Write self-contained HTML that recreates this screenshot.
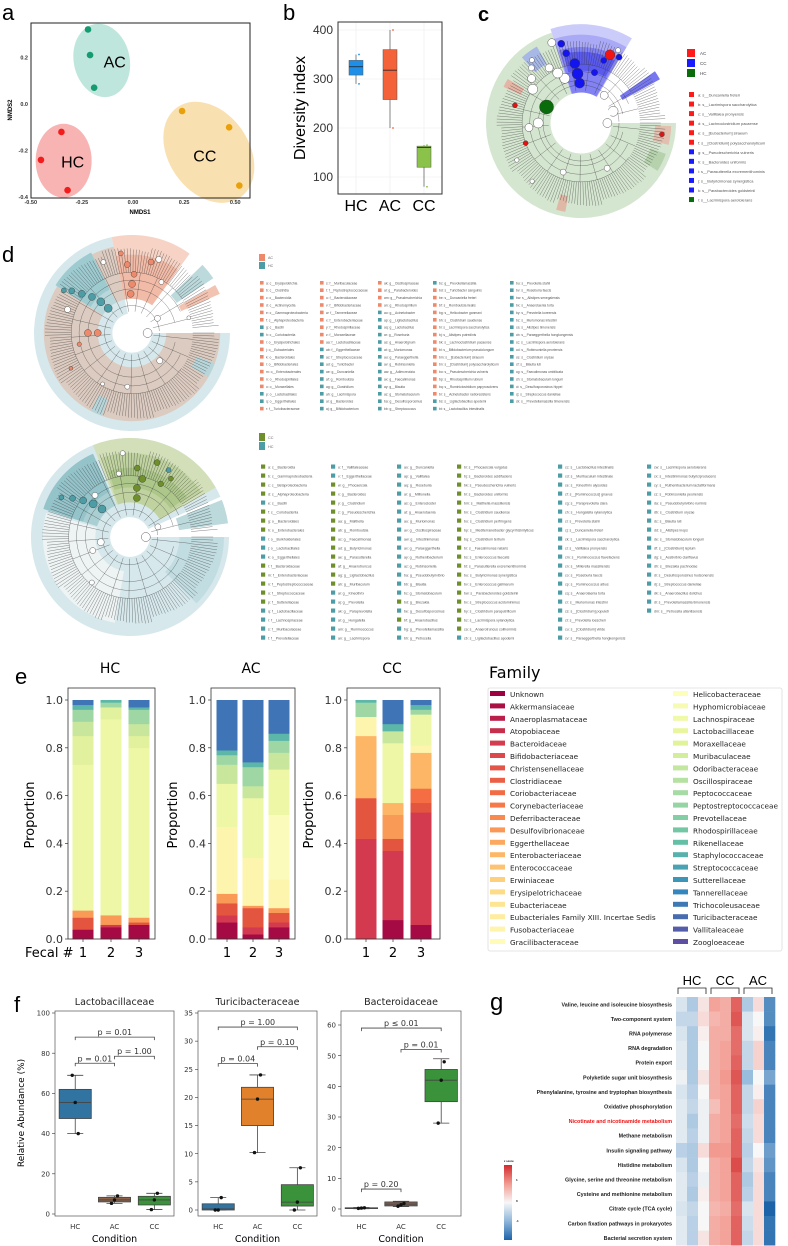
<!DOCTYPE html>
<html><head><meta charset="utf-8">
<style>
body{margin:0;background:#fff;width:788px;height:1246px;overflow:hidden}
svg{display:block;font-family:"Liberation Sans",sans-serif}
.mp{font-family:"DejaVu Sans","Liberation Sans",sans-serif}
</style></head><body>
<svg id="fig" width="788" height="1246" viewBox="0 0 788 1246">
<text x="2" y="20" font-size="22">a</text>
<text x="283" y="20" font-size="22">b</text>
<text x="478" y="21" font-size="20" font-weight="bold">c</text>
<text x="2" y="262" font-size="22">d</text>
<text x="15" y="684" font-size="22">e</text>
<text x="14" y="1012" font-size="22">f</text>
<text x="490" y="1010" font-size="24">g</text>
</svg>
<script>
// ---------- DATA ----------
const nmdsGroups = ['HC','AC','CC'];
const nmdsHCx = [-0.35,-0.45,-0.32], nmdsHCy = [-0.12,-0.24,-0.37];
const nmdsACx = [-0.22,-0.21,-0.19], nmdsACy = [0.32,0.21,0.07];
const nmdsCCx = [0.24,0.47,0.52],   nmdsCCy = [-0.03,-0.10,-0.35];
const nmdsXTicks = [-0.5,-0.25,0,0.25,0.5];
const nmdsXTickLabels = ['-0.50','-0.25','0.00','0.25','0.50'];
const nmdsYTicks = [0.2,0,-0.2,-0.4];
const nmdsYTickLabels = ['0.2','0.0','-0.2','-0.4'];
const divCats = ['HC','AC','CC'];
const divMin = [290,200,80], divQ1 = [308,258,120], divMed = [325,318,160], divQ3 = [338,360,163], divMax = [350,400,165];
const divYTicks = [100,200,300,400];
const stackGroups = ['HC','AC','CC'];
const stackHeights = [
 [[0.04,0.05,0.03,0.61,0.12,0.06,0.05,0.02,0.02],[0.05,0.01,0.04,0.82,0.05,0.02,0.01],[0.06,0.01,0.02,0.71,0.05,0.05,0.06,0.01,0.03]],
 [[0.07,0.03,0.05,0.04,0.28,0.18,0.08,0.04,0.02,0.21],[0.02,0.03,0.08,0.01,0.20,0.25,0.05,0.08,0.02,0.26],[0.05,0.02,0.04,0.02,0.12,0.27,0.19,0.07,0.05,0.03,0.14]],
 [[0.42,0.17,0.26,0.08,0.06,0.01],[0.08,0.29,0.05,0.10,0.05,0.25,0.05,0.03,0.10],[0.06,0.47,0.04,0.06,0.15,0.03,0.13,0.02,0.02,0.02]]
];
const stackColors = [
 [['k0','k2','k4','ly','lg','yg','gr','te','bl'],['k0','k1','k4','ly','lg','gr','te'],['k0','k2','k4','ly','lg','yg','gr','te','bl']],
 [['k0','k1','k2','k4','cr','ly','yg','gr','te','bl'],['k0','k1','k2','k4','cr','ly','yg','gr','te','bl'],['k0','k1','k2','k4','cr','cr2','ly','yg','gr','te','bl']],
 [['k1','k2','k5','cr','gr','te'],['k0','k1','k2','k4','k5','ly','yg','te','bl'],['k0','k1','k2','k3','k5','cr','ly','gr','te','bl']]
];
const stackYTicks = [0,0.2,0.4,0.6,0.8,1.0];
const stackYTickLabels = ['0.0','0.2','0.4','0.6','0.8','1.0'];
const fecalLabels = ['1','2','3'];
const familyNames = ['Unknown','Akkermansiaceae','Anaeroplasmataceae','Atopobiaceae','Bacteroidaceae','Bifidobacteriaceae','Christensenellaceae','Clostridiaceae','Coriobacteriaceae','Corynebacteriaceae','Deferribacteraceae','Desulfovibrionaceae','Eggerthellaceae','Enterobacteriaceae','Enterococcaceae','Erwiniaceae','Erysipelotrichaceae','Eubacteriaceae','Eubacteriales Family XIII. Incertae Sedis','Fusobacteriaceae','Gracilibacteraceae','Helicobacteraceae','Hyphomicrobiaceae','Lachnospiraceae','Lactobacillaceae','Moraxellaceae','Muribaculaceae','Odoribacteraceae','Oscillospiraceae','Peptococcaceae','Peptostreptococcaceae','Prevotellaceae','Rhodospirillaceae','Rikenellaceae','Staphylococcaceae','Streptococcaceae','Sutterellaceae','Tannerellaceae','Trichocoleusaceae','Turicibacteraceae','Vallitaleaceae','Zoogloeaceae'];
const fTitles = ['Lactobacillaceae','Turicibacteraceae','Bacteroidaceae'];
const fCats = ['HC','AC','CC'];
const fMin = [[40,5.3,2.2],[0,10.2,0],[0.1,0.8,28]];
const fQ1  = [[47.5,6,4.5],[0,15,0.7],[0.2,1.0,35]];
const fMed = [[55.5,7,7],[0.2,19.7,1.4],[0.3,1.6,42]];
const fQ3  = [[62,8.3,8.8],[1.1,21.8,4.5],[0.4,2.3,45.5]];
const fMax = [[69,9,10.3],[2.2,24,7.5],[0.5,2.5,49]];
const fPts = [[[69,55.5,40],[5.3,7,9],[2.2,7,10.3]],[[0,0,2.2],[10.2,19.7,24],[0,1.4,7.5]],[[0.2,0.3,0.4],[0.9,1.4,1.8],[28,42,48]]];
const fYTicks = [[0,20,40,60,80,100],[0,5,10,15,20,25,30,35],[0,10,20,30,40,50,60]];
const fBrA = [[0,1,0],[0,1,0],[0,1,0]], fBrB = [[2,2,1],[2,2,1],[2,2,1]];
const fBrY = [[88,78.5,75],[32.5,29,26],[59,52,6.5]];
const fBrText = [['p = 0.01','p = 1.00','p = 0.01'],['p = 1.00','p = 0.10','p = 0.04'],['p \u2264 0.01','p = 0.01','p = 0.20']];
const pathways = ['Valine, leucine and isoleucine biosynthesis','Two-component system','RNA polymerase','RNA degradation','Protein export','Polyketide sugar unit biosynthesis','Phenylalanine, tyrosine and tryptophan biosynthesis','Oxidative phosphorylation','Nicotinate and nicotinamide metabolism','Methane metabolism','Insulin signaling pathway','Histidine metabolism','Glycine, serine and threonine metabolism','Cysteine and methionine metabolism','Citrate cycle (TCA cycle)','Carbon fixation pathways in prokaryotes','Bacterial secretion system'];
const heatGroups = ['HC','CC','AC'];
const zScores = [
 [-0.3,-0.7,0.2,0.9,0.8,1.5,-0.7,0.3,-1.5],[-0.5,-0.5,0.3,0.7,0.8,1.6,-0.3,0.0,-1.5],[-0.3,-0.7,0.1,0.8,0.8,1.4,-0.3,0.1,-1.8],
 [-0.2,-0.7,0.0,0.8,0.9,1.4,-0.5,0.4,-1.6],[-0.2,-0.7,0.0,0.8,0.9,1.5,-0.5,0.4,-1.6],[-0.1,-0.7,0.2,0.8,1.0,1.6,-0.9,0.0,-1.2],
 [-0.3,-0.6,0.0,0.8,0.9,1.5,-0.5,0.1,-1.6],[-0.2,-0.5,-0.1,0.6,0.9,1.5,-0.5,0.4,-1.6],[-0.2,-0.7,-0.1,0.8,0.9,1.4,-0.4,0.3,-1.6],
 [-0.2,-0.6,-0.1,0.8,0.9,1.5,-0.5,0.3,-1.6],[-0.6,-0.7,0.3,1.0,1.0,1.5,-0.6,0.0,-1.3],[-0.3,-0.7,0.0,0.8,0.9,1.7,-0.5,0.2,-1.4],
 [-0.2,-0.6,-0.1,0.8,0.9,1.5,-0.7,0.3,-1.6],[-0.2,-0.7,0.1,0.8,0.9,1.5,-0.6,0.3,-1.6],[-0.3,-0.5,0.0,0.7,0.8,1.4,-0.3,0.3,-2.0],
 [-0.2,-0.6,0.0,0.8,0.9,1.5,-0.4,0.3,-1.8],[-0.2,-0.6,0.2,0.8,0.9,1.5,-0.5,0.3,-1.8]];
const cLegend = ['s__Duncaniella freteri','s__Lacrimispora saccharolytica','s__Vallitalea pronyensis','s__Lachnoclostridium pacaense','s__[Eubacterium] siraeum','s__[Clostridium] polysaccharolyticum','s__Pseudescherichia vulneris','s__Bacteroides uniformis','s__Parasutterella excrementihominis','s__Butyricimonas synergistica','s__Parabacteroides goldsteinii','s__Lacrimispora aerotolerans'];
const cLegendCol = 'rrrrrrbbbbbg';
const dTopNames = ['c__Erysipelotrichia','c__Clostridia','c__Bacteroidia','c__Actinomycetia','c__Gammaproteobacteria','c__Alphaproteobacteria','c__Bacilli','c__Coriobacteriia','o__Erysipelotrichales','o__Eubacteriales','o__Bacteroidales','o__Bifidobacteriales','o__Enterobacterales','o__Rhodospirillales','o__Moraxellales','o__Lactobacillales','o__Eggerthellales','f__Turicibacteraceae',
'f__Muribaculaceae','f__Peptostreptococcaceae','f__Bacteroidaceae','f__Bifidobacteriaceae','f__Tannerellaceae','f__Enterobacteriaceae','f__Rhodospirillaceae','f__Moraxellaceae','f__Lactobacillaceae','f__Eggerthellaceae','f__Streptococcaceae','g__Turicibacter','g__Duncaniella','g__Romboutsia','g__Clostridium','g__Lacrimispora','g__Bacteroides','g__Bifidobacterium',
'g__Oscillospiraceae','g__Parabacteroides','g__Pseudescherichia','g__Rhodospirillum','g__Acinetobacter','g__Ligilactobacillus','g__Lactobacillus','g__Roseburia','g__Anaerotignum','g__Muriomonas','g__Paraeggerthella','g__Robinsoniella','g__Adlercreutzia','g__Faecalimonas','g__Blautia','g__Stomatobaculum','g__Desulfosporosinus','g__Streptococcus',
'g__Prevotellamassilia','s__Turicibacter sanguinis','s__Duncaniella freteri','s__Romboutsia ilealis','s__Helicobacter ganmani','s__Clostridium saudiense','s__Lacrimispora saccharolytica','s__Alistipes putredinis','s__Lachnoclostridium pacaense','s__Bifidobacterium pseudolongum','s__[Eubacterium] siraeum','s__[Clostridium] polysaccharolyticum','s__Pseudescherichia vulneris','s__Rhodospirillum rubrum','s__Ruminiclostridium papyrosolvens','s__Acinetobacter radioresistens','s__Ligilactobacillus apodemi','s__Lactobacillus intestinalis',
's__Prevotella stahli','s__Roseburia faecis','s__Alistipes senegalensis','s__Anaerotaenia torta','s__Prevotella koreensis','s__Muriomonas intestini','s__Alistipes timonensis','s__Paraeggerthella hongkongensis','s__Lacrimispora aerotolerans','s__Robinsoniella peoriensis','s__Clostridium oryzae','s__Blautia luti','s__Faecalimonas umbilicata','s__Stomatobaculum longum','s__Desulfosporosinus hippei','s__Streptococcus danieliae','s__Prevotellamassilia timonensis'];
const dTopCol = 'oooooottoooooootto'+'oooooooootttttttt'+'t'+'oooottttttttttttttt'.slice(0,18)+'t'+'ooooooooooooooo'+'tt'+'ttttttttttttttttt';
const dBotNames = ['c__Bacteroidia','c__Gammaproteobacteria','c__Betaproteobacteria','c__Alphaproteobacteria','c__Bacilli','c__Coriobacteriia','o__Bacteroidales','o__Enterobacterales','o__Burkholderiales','o__Lactobacillales','o__Eggerthellales','f__Bacteroidaceae','f__Enterobacteriaceae','f__Peptostreptococcaceae','f__Streptococcaceae','f__Sutterellaceae','f__Lactobacillaceae','f__Lachnospiraceae','f__Muribaculaceae','f__Prevotellaceae',
'f__Vallitaleaceae','f__Eggerthellaceae','g__Phocaeicola','g__Bacteroides','g__Clostridium','g__Pseudescherichia','g__Malthella','g__Romboutsia','g__Faecalimonas','g__Butyricimonas','g__Parasutterella','g__Anaerotruncus','g__Ligilactobacillus','g__Muribaculum','g__Kineothrix','g__Prevotella','g__Paraprevotella','g__Hungatella','g__Ruminococcus','g__Lacrimispora',
'g__Duncaniella','g__Vallitalea','g__Roseburia','g__Millionella','g__Enterocloster','g__Anaerotaenia','g__Muriomonas','g__Oscillospiraceae','g__Intestinimonas','g__Paraeggerthella','g__Ruthenibacterium','g__Robinsoniella','g__Pseudobutyrivibrio','g__Blautia','g__Stomatobaculum','g__Brezakia','g__Desulfosporosinus','g__Anaerobacillus','g__Prevotellamassilia','g__Petrocella',
's__Phocaeicola vulgatus','s__Bacteroides acidifaciens','s__Pseudescherichia vulneris','s__Bacteroides uniformis','s__Malthella massiliensis','s__Clostridium saudiense','s__Clostridium perfringens','s__Mediterraneibacter glycyrrhizinilyticus','s__Clostridium tertium','s__Faecalimonas nataris','s__Enterococcus faecalis','s__Parasutterella excrementihominis','s__Butyricimonas synergistica','s__Enterococcus gallinarum','s__Parabacteroides goldsteinii','s__Streptococcus acidominimus','s__Clostridium paraputrificum','s__Lacrimispora xylanolytica','s__Anaerotruncus colihominis','s__Ligilactobacillus apodemi',
's__Lactobacillus intestinalis','s__Muribaculum intestinale','s__Kineothrix alysoides','s__[Ruminococcus] gnavus','s__Paraprevotella clara','s__Hungatella xylanolytica','s__Prevotella stahli','s__Duncaniella freteri','s__Lacrimispora saccharolytica','s__Vallitalea pronyensis','s__Ruminococcus flavefaciens','s__Millerella massiliensis','s__Roseburia faecis','s__Ruminococcus albus','s__Anaerotaenia torta','s__Muriomonas intestini','s__[Clostridium] populeti','s__Prevotella loescheii','s__[Clostridium] viride','s__Paraeggerthella hongkongensis',
's__Lacrimispora aerotolerans','s__Intestinimonas butyriciproducens','s__Ruthenibacterium lactatiformans','s__Robinsoniella peoriensis','s__Pseudobutyrivibrio ruminis','s__Clostridium oryzae','s__Blautia luti','s__Alistipes inops','s__Stomatobaculum longum','s__[Clostridium] leptum','s__Acetivibrio clariflavus','s__Brezakia pachnodae','s__Desulfosporosinus hudsonensis','s__Streptococcus danieliae','s__Anaerobacillus dolichus','s__Prevotellamassilia timonensis','s__Petrocella atlantisensis'];
const dBotCol = 'ggggtgggtttgggggtttt'+'ttggggggggggggtttttt'+'tttttttttttttttgtgtt'+'gggggggggggggggggggt'+'tttttttttttttttttttt'+'ttttttttttttttttt';

// ---------- helpers ----------
const NS='http://www.w3.org/2000/svg';
const svg=document.getElementById('fig');
function mk(tag,attrs,parent){const e=document.createElementNS(NS,tag);for(const k in attrs)e.setAttribute(k,attrs[k]);(parent||svg).appendChild(e);return e;}
function txt(x,y,s,size,anchor,parent,extra){const e=mk('text',Object.assign({x:x,y:y,'font-size':size,'text-anchor':anchor||'start'},extra||{}),parent);e.textContent=s;return e;}
function grp(name){const g=mk('g',{});return g;}
function lerpHex(a,b,t){const pa=[1,3,5].map(i=>parseInt(a.substr(i,2),16)),pb=[1,3,5].map(i=>parseInt(b.substr(i,2),16));return 'rgb('+pa.map((v,i)=>Math.round(v+(pb[i]-v)*t)).join(',')+')';}
function ramp(stops,t){t=Math.max(0,Math.min(1,t));const n=stops.length-1;const i=Math.min(n-1,Math.floor(t*n));return lerpHex(stops[i],stops[i+1],t*n-i);}
const letters='abcdefghijklmnopqrstuvwxyz';
function code(i){return i<26?letters[i]:letters[Math.floor(i/26)-1]+letters[i%26];}

// ---------- PANEL A ----------
(function(){
 const g=grp('panel-a-nmds');
 const sx=v=>133+v*204.5, sy=v=>104-v*233;
 const cols={HC:['#f31c1c','#f7b4b2'],AC:['#159b70','#bfe6dc'],CC:['#e9a10b','#f9e0b0']};
 const xs={HC:nmdsHCx,AC:nmdsACx,CC:nmdsCCx}, ys={HC:nmdsHCy,AC:nmdsACy,CC:nmdsCCy};
 const ell={HC:[28,37,0,7,0],AC:[28,37,-12,11,3],CC:[40,55,-35,-8,11]};
 const lab={HC:[9,7],AC:[13,7],CC:[-4,9]};
 nmdsGroups.forEach(k=>{
  const mx=xs[k].reduce((a,b)=>a+b)/3, my=ys[k].reduce((a,b)=>a+b)/3;
  const cx=sx(mx)+ell[k][3], cy=sy(my)+ell[k][4];
  const e=mk('ellipse',{cx:cx,cy:cy,rx:ell[k][0],ry:ell[k][1],fill:cols[k][1],transform:'rotate('+ell[k][2]+' '+cx+' '+cy+')'},g);
  
  
  xs[k].forEach((v,i)=>{
   const p=mk('circle',{cx:sx(v),cy:sy(ys[k][i]),r:3.3,fill:cols[k][0]},g);
   
   
  });
  const t=txt(cx+lab[k][0],cy+lab[k][1],k,16,'middle',g);
  
  
 });
 const f=mk('rect',{x:31,y:23,width:219,height:175,fill:'none',stroke:'#222','stroke-width':1},g);
 
 
 nmdsXTicks.forEach((v,i)=>{const t=txt(sx(v),204,nmdsXTickLabels[i],5.5,'middle',g,{'font-weight':'bold',fill:'#333'});});
 nmdsYTicks.forEach((v,i)=>{const t=txt(28,sy(v)+2,nmdsYTickLabels[i],5.5,'end',g,{'font-weight':'bold',fill:'#333'});});
 const xl=txt(140,214,'NMDS1',6,'middle',g,{'font-weight':'bold'});
 const yl=txt(12,110,'NMDS2',6,'middle',g,{'font-weight':'bold',transform:'rotate(-90 12 110)'});
})();

// ---------- PANEL B ----------
(function(){
 const g=grp('panel-b-diversity');
 const sy=v=>177-(v-100)*0.49;
 const cx=[356,390,424];
 const cols=['#1e8fe8','#f4623a','#8bc34a'];
 divYTicks.forEach(v=>{const l=mk('line',{x1:338,x2:442,y1:sy(v),y2:sy(v),stroke:'#ebebeb','stroke-width':0.6},g);
  const t=txt(333,sy(v)+4,String(v),12,'end',g,{fill:'#333'});});
 divCats.forEach((c,i)=>{
  const l0=mk('line',{x1:cx[i],x2:cx[i],y1:22,y2:194,stroke:'#ebebeb','stroke-width':0.6},g);
  const w=mk('line',{x1:cx[i],x2:cx[i],y1:sy(divMax[i]),y2:sy(divMin[i]),stroke:'#555','stroke-width':0.7},g);
  const b=mk('rect',{x:cx[i]-7,y:sy(divQ3[i]),width:14,height:sy(divQ1[i])-sy(divQ3[i]),fill:cols[i],stroke:'#555','stroke-width':0.5},g);
  const m=mk('line',{x1:cx[i]-7,x2:cx[i]+7,y1:sy(divMed[i]),y2:sy(divMed[i]),stroke:'#222','stroke-width':0.8},g);
  [divMin[i],divMax[i]].forEach(v=>{const p=mk('circle',{cx:cx[i]+3,cy:sy(v),r:0.9,fill:cols[i]},g);});
  const t=txt(cx[i],211,c,16,'middle',g);
 });
 const f=mk('rect',{x:338,y:22,width:104,height:172,fill:'none',stroke:'#333','stroke-width':1},g);
 const yl=txt(305,108,'Diversity index',16,'middle',g,{transform:'rotate(-90 305 108)'});
})();

// ---------- CLADOGRAM helper ----------
function pt(cx,cy,R,r,th){const a=th*Math.PI/180;return [cx+R*r*Math.cos(a),cy+R*r*Math.sin(a)];}
function sector(g,cx,cy,R,r0,r1,t0,t1,fill){
 const p1=pt(cx,cy,R,r1,t0),p2=pt(cx,cy,R,r1,t1),p3=pt(cx,cy,R,r0,t1),p4=pt(cx,cy,R,r0,t0);
 const lg=(t1-t0)>180?1:0;
 const d='M'+p1+' A'+R*r1+','+R*r1+' 0 '+lg+' 1 '+p2+' L'+p3+' A'+R*r0+','+R*r0+' 0 '+lg+' 0 '+p4+'Z';
 const e=mk('path',{d:d,fill:fill},g);
}
function clado(name,cx,cy,R,bands,nodes,spokeFrom,spokeTo,hole){
 hole=hole||0.2;
 const g=grp(name);
 bands.forEach(b=>sector(g,cx,cy,R,b[0],b[1],b[2],b[3],b[4]));
 let d='';
 for(let th=spokeFrom;th<=spokeTo;th+=2.1){
  const len=0.84+((Math.round(th*7))%5)*0.012;
  const a=pt(cx,cy,R,0.62,th),b=pt(cx,cy,R,len,th);d+='M'+a+'L'+b;
 }
 [hole+0.08,0.45,0.54,0.62].forEach((r,j)=>{const s=spokeFrom+j*12,e=spokeTo-j*10;const a=pt(cx,cy,R,r,s),b=pt(cx,cy,R,r,e);d+='M'+a+'A'+R*r+','+R*r+' 0 '+((e-s)>180?1:0)+' 1 '+b;});
 for(let th=spokeFrom+6;th<spokeTo;th+=17){const a=pt(cx,cy,R,hole+0.02,th),b=pt(cx,cy,R,0.62,th);d+='M'+a+'L'+b;}
 const sp=mk('path',{d:d,fill:'none',stroke:'#333','stroke-width':0.3},g);
 nodes.forEach(n=>{const p=pt(cx,cy,R,n[0],n[1]);const c=mk('circle',{cx:p[0],cy:p[1],r:n[2],fill:n[3],stroke:'#333','stroke-width':0.4},g);});
 const c0=mk('circle',{cx:cx,cy:cy,r:R*hole,fill:'#fff'},g);
 const r0=pt(cx,cy,R,hole,0);const cr=mk('circle',{cx:r0[0]-4,cy:r0[1],r:4.5,fill:'#fff',stroke:'#333','stroke-width':0.4},g);
 return g;
}
// ---------- PANEL C ----------
(function(){
 const W='#fff';
 const nodes=[[0.4,205,7,'#0a6b0a'],[0.5,250,5,W],[0.58,245,5,W],[0.67,240,4,W],[0.45,180,5,W],[0.55,175,4,W],[0.62,215,5,W],[0.7,222,4,W],[0.78,228,3,W],[0.84,232,2.5,W],
  [0.42,268,5,'#1414f0'],[0.52,266,5.5,'#1414f0'],[0.63,264,5,'#1414f0'],[0.75,258,3.5,'#1414f0'],[0.86,256,3.5,'#1414f0'],[0.55,285,3.2,'#1414f0'],[0.7,290,3,'#1414f0'],[0.78,293,5,'#f01414'],[0.8,300,3,'#1414f0'],[0.86,297,2.5,W],[0.9,250,4,W],
  [0.38,310,4,W],[0.36,340,5,W],[0.62,160,2.5,'#e01414'],[0.72,195,2.5,'#e01414'],[0.86,8,2.5,'#e01414'],[0.55,110,3,W],[0.55,60,3,W],[0.78,150,2.2,W],[0.8,130,2.2,W]];
 clado('panel-c-cladogram',581,123,95,[[0.32,1.0,0,252,'#d5e6d0'],[0.32,1.04,252,301,'#ccccfa'],[0.32,0.93,252,301,'#a9a9f6'],[0.32,0.8,253,300,'#8282f2'],[0.55,0.75,256,298,'#5a5aef'],[0.5,0.95,325,331,'#7777f0'],[0.78,0.95,2,14,'#e2bfae'],[0.78,0.95,20,32,'#b5d2ad'],[0.7,0.9,205,211,'#e4b4a4'],[0.72,0.93,228,240,'#a8b8e6'],[0.78,0.95,100,106,'#e0b8a6']],nodes,0,358,0.32);
 const lg=grp('panel-c-legend');
 [['AC','#ff1a1a'],['CC','#1a1aff'],['HC','#0a6b0a']].forEach((s,i)=>{const r=mk('rect',{x:687,y:49+i*10,width:8,height:8,fill:s[1]},lg);const t=txt(700,55+i*10,s[0],4.5,'start',lg,{fill:'#444'});});
 cLegend.forEach((s,i)=>{const col={r:'#ff1a1a',b:'#1a1aff',g:'#0a6b0a'}[cLegendCol[i]];const r=mk('rect',{x:689,y:92+i*9.55,width:5,height:5,fill:col},lg);const t=txt(698,96.5+i*9.55,code(i)+': '+s,3.9,'start',lg,{fill:'#555'});});
})();
// ---------- PANEL D ----------
(function(){
 const W='#fff',O='#ee8a6b',T='#4d9da6',G='#6e8f2a';
 clado('panel-d-cladogram-ac-hc',132,333,98,[[0.2,1.0,0,258,'#d6e8ec'],[0.2,0.35,0,360,'#d9e8eb'],[0.35,0.9,0,212,'#dccbc0'],[0.35,0.92,212,243,'#b9d8dc'],[0.5,0.92,212,243,'#9ecbd0'],[0.35,0.9,243,258,'#dccbc0'],[0.35,1.0,258,306,'#f6d3c5'],[0.35,0.8,258,306,'#f1bba7'],[0.55,1.0,316,326,'#bcd9dc'],[0.55,0.98,330,336,'#f3c3b1'],[0.7,0.9,20,30,'#b8d6da'],[0.72,0.9,110,118,'#b8d6da']],
  [[0.35,226,4,T],[0.45,225,4,T],[0.55,222,3.5,T],[0.65,218,3.5,T],[0.75,215,3,T],[0.82,212,2.5,T],[0.4,268,3.5,O],[0.5,270,3.5,O],[0.6,272,3,O],[0.7,266,3,O],[0.82,262,2.5,O],[0.75,285,3,O],[0.35,180,3.5,O],[0.45,180,3.5,O],[0.55,168,2.2,O],[0.72,150,2,O],[0.6,300,2.5,W],[0.8,290,3,W],[0.55,95,2.5,W],[0.4,45,3,W],[0.6,120,2,W],[0.7,200,3,W],[0.78,248,2.5,W],[0.3,330,3,W],[0.6,345,2,W]],0,356);
 clado('panel-d-cladogram-cc-hc',130,537,99,[[0.2,1.0,0,336,'#d6e8ec'],[0.35,1.0,248,330,'#d3dfb9'],[0.35,0.85,250,328,'#bfd29f'],[0.5,0.7,252,325,'#adc78a'],[0.35,0.92,198,246,'#aacfd3'],[0.5,0.92,198,246,'#94c3c9'],[0.35,0.88,100,196,'#eef3f3'],[0.5,1.0,338,352,'#bcd9dc'],[0.5,0.95,0,45,'#c2dde1']],
  [[0.4,280,3.5,G],[0.5,278,3.5,G],[0.6,282,3.5,G],[0.7,276,3,G],[0.8,290,3,G],[0.62,300,2.8,G],[0.72,305,2.5,G],[0.4,225,4,T],[0.5,222,4,T],[0.6,218,3.5,T],[0.7,214,3,T],[0.8,210,2.5,T],[0.78,300,2.5,T],[0.3,170,3.5,W],[0.4,160,3,W],[0.55,230,3,W],[0.65,260,2.5,W],[0.3,340,3,W],[0.6,130,2.5,W],[0.85,265,2.5,W]],0,356);
 const lg1=grp('panel-d-legend-ac-hc');
 [['AC','#ee8a6b'],['HC','#4d9da6']].forEach((s,i)=>{const r=mk('rect',{x:259,y:254+i*8,width:6,height:7,fill:s[1]},lg1);const t=txt(268,259+i*8,s[0],3.6,'start',lg1,{fill:'#666'});});
 const cx1=[260,320,378,433,510];
 dTopNames.forEach((s,i)=>{const c=Math.floor(i/18),r=i%18;const col=dTopCol[i]==='o'?O:T;const q=mk('rect',{x:cx1[c],y:281+r*7.4,width:3.6,height:3.6,fill:col},lg1);const t=txt(cx1[c]+6,284.3+r*7.4,code(i)+': '+s,3.3,'start',lg1,{fill:'#555'});});
 const lg2=grp('panel-d-legend-cc-hc');
 [['CC',G],['HC','#4d9da6']].forEach((s,i)=>{const r=mk('rect',{x:259,y:433+i*9,width:6,height:8,fill:s[1]},lg2);const t=txt(268,439+i*9,s[0],3.8,'start',lg2,{fill:'#666'});});
 const cx2=[261,331,397,457,558,647];
 dBotNames.forEach((s,i)=>{const c=Math.floor(i/20),r=i%20;const col=dBotCol[i]==='g'?G:T;const q=mk('rect',{x:cx2[c],y:464.5+r*9,width:4.2,height:4.2,fill:col},lg2);const t=txt(cx2[c]+7,468.3+r*9,code(i)+': '+s,3.5,'start',lg2,{fill:'#555'});});
})();

// ---------- PANEL E ----------
(function(){
 const g=grp('panel-e-stacked-bars');
 const sy=v=>939-v*239;
 const pal={k0:'#a50a45',k1:'#d3394f',k2:'#e4553f',k3:'#f46d43',k4:'#f99a57',k5:'#fdb566',cr:'#fdf5ae',cr2:'#fbfbbb',ly:'#eef7a6',lg:'#e2f19d',yg:'#c8e79d',gr:'#9ed7a4',te:'#5cb7a9',bl:'#3f74b6'};
 const boxes=[[68,87],[211,84],[347,93]];
 const centers=[[83,111,139],[227,253,279],[366,393,421]];
 const titleX=[110,251,392];
 stackGroups.forEach((gn,gi)=>{
  const t=txt(titleX[gi],673,gn,14,'middle',g,{class:'mp'});
  stackHeights[gi].forEach((bar,bi)=>{
   let acc=0;
   bar.forEach((h,si)=>{
    const r=mk('rect',{x:centers[gi][bi]-10.5,y:sy(acc+h),width:21,height:sy(acc)-sy(acc+h)+0.3,fill:pal[stackColors[gi][bi][si]]},g);
    
    
    acc+=h;
   });
   const xl=txt(centers[gi][bi],957,fecalLabels[bi],13,'middle',g,{class:'mp'});
   const tk=mk('line',{x1:centers[gi][bi],x2:centers[gi][bi],y1:939,y2:942,stroke:'#333','stroke-width':0.7},g);
  });
  const bx=boxes[gi][0];
  const f=mk('rect',{x:bx,y:688,width:boxes[gi][1],height:251,fill:'none',stroke:'#333','stroke-width':0.8},g);
  stackYTicks.forEach((v,i)=>{const tk=mk('line',{x1:bx-3,x2:bx,y1:sy(v),y2:sy(v),stroke:'#333','stroke-width':0.7},g);const tl=txt(bx-5,sy(v)+4,stackYTickLabels[i],11,'end',g,{class:'mp',fill:'#333'});});
  const yx=bx-34;const yl=txt(yx,815,'Proportion',13,'middle',g,{class:'mp',transform:'rotate(-90 '+yx+' 815)'});
 });
 const fl=txt(25,957,'Fecal #',13,'start',g,{class:'mp'});
 const lg=grp('panel-e-family-legend');
 const ft=txt(489,678,'Family',16,'start',lg,{class:'mp'});
 const fr=mk('rect',{x:488,y:688,width:294,height:263,fill:'#fff',stroke:'#ddd','stroke-width':0.8,rx:2},lg);
 const stops=['#9e0142','#d53e4f','#f46d43','#fdae61','#fee08b','#ffffbf','#e6f598','#abdda4','#66c2a5','#3288bd','#5e4fa2'];
 familyNames.forEach((s,i)=>{const c=Math.floor(i/21),r=i%21;const x=c?673:490;const col=ramp(stops,i/(familyNames.length-1));const q=mk('rect',{x:x,y:691+r*12.4,width:15,height:5,fill:col},lg);const t=txt(x+20,697+r*12.4,s,7.3,'start',lg,{class:'mp',fill:'#222'});});
})();

// ---------- PANEL F ----------
(function(){
 const g=grp('panel-f-boxplots');
 const frames=[[55,174,1013,1214],[198,317,1013,1210],[341,461,1025,1209]];
 const colors=[['#3274a1','#8c6147','#3a923a'],['#3274a1','#e1812c','#3a923a'],['#3274a1','#7b6150','#3a923a']];
 frames.forEach((fr,pi)=>{
  const [x0,x1,yTop,y0]=fr;
  const topV=fYTicks[pi][fYTicks[pi].length-1];
  const sy=v=>y0-(v/topV)*(y0-yTop);
  const w=x1-x0;const cx=[x0+w*0.17,x0+w*0.5,x0+w*0.835];
  const f=mk('rect',{x:x0,y:1011,width:w,height:205,fill:'none',stroke:'#555','stroke-width':0.7},g);
  const tt=txt((x0+x1)/2,1005,fTitles[pi],9.5,'middle',g,{class:'mp',fill:'#222'});
  fYTicks[pi].forEach(v=>{const tk=mk('line',{x1:x0-3,x2:x0,y1:sy(v),y2:sy(v),stroke:'#333','stroke-width':0.6},g);const tl=txt(x0-5,sy(v)+2.6,String(v),7,'end',g,{class:'mp',fill:'#333'});});
  fCats.forEach((c,i)=>{
   const bw=w*0.27;
   const wl=mk('line',{x1:cx[i],x2:cx[i],y1:sy(fMax[pi][i]),y2:sy(fMin[pi][i]),stroke:'#444','stroke-width':0.8},g);
   [fMax[pi][i],fMin[pi][i]].forEach(v=>{const cap=mk('line',{x1:cx[i]-bw/4,x2:cx[i]+bw/4,y1:sy(v),y2:sy(v),stroke:'#444','stroke-width':0.8},g);});
   const b=mk('rect',{x:cx[i]-bw/2,y:sy(fQ3[pi][i]),width:bw,height:Math.max(0.8,sy(fQ1[pi][i])-sy(fQ3[pi][i])),fill:colors[pi][i],stroke:'#444','stroke-width':0.8},g);
   const m=mk('line',{x1:cx[i]-bw/2,x2:cx[i]+bw/2,y1:sy(fMed[pi][i]),y2:sy(fMed[pi][i]),stroke:'#444','stroke-width':0.8},g);
   fPts[pi][i].forEach((v,k)=>{const p=mk('circle',{cx:cx[i]+(k-1)*3,cy:sy(v),r:1.7,fill:'#111'},g);});
   const xt=txt(cx[i],1229,c,7,'middle',g,{class:'mp',fill:'#333'});
  });
  fBrY[pi].forEach((v,k)=>{const a=cx[fBrA[pi][k]],b=cx[fBrB[pi][k]],y=sy(v);const br=mk('path',{d:'M'+a+','+(y+3)+'V'+y+'H'+b+'V'+(y+3),fill:'none',stroke:'#444','stroke-width':0.8},g);const t=txt((a+b)/2,y-2,fBrText[pi][k],8,'middle',g,{class:'mp',fill:'#333'});});
  const xl=txt((x0+x1)/2,1242,'Condition',9.5,'middle',g,{class:'mp'});
 });
 const yl=txt(24,1113,'Relative Abundance (%)',9,'middle',g,{class:'mp',transform:'rotate(-90 24 1113)'});
})();

// ---------- PANEL G ----------
(function(){
 const g=grp('panel-g-heatmap');
 const x0=676,cw=11,y0=997,rh=14.6;
 const stops=['#1c63a8','#8fb6da','#f7f7f7','#f29a90','#d22a2e'];
 zScores.forEach((row,ri)=>{
  row.forEach((v,ci)=>{const c=mk('rect',{x:x0+ci*cw,y:y0+ri*rh,width:cw+0.3,height:rh+0.3,fill:ramp(stops,(v+2)/4)},g);});
  const red=pathways[ri].startsWith('Nicotinate');
  const t=txt(672,y0+ri*rh+rh/2+2,pathways[ri],5.4,'end',g,{'font-weight':'bold',fill:red?'#f01010':'#222'});
 });
 heatGroups.forEach((h,i)=>{const a=x0+i*33+2,b=a+28;const t=txt((a+b)/2,985,h,13,'middle',g);const br=mk('path',{d:'M'+a+',994V988H'+b+'V994',fill:'none',stroke:'#222','stroke-width':0.8},g);});
 const defs=mk('defs',{},g);const lgd=mk('linearGradient',{id:'zg',x1:0,y1:0,x2:0,y2:1},defs);
 [0,0.25,0.5,0.75,1].forEach((o,i)=>mk('stop',{offset:o,'stop-color':stops[4-i]},lgd));
 const cb=mk('rect',{x:504,y:1165,width:8,height:75,fill:'url(#zg)'},g);
 const zt=txt(504,1162,'z score',2.8,'start',g,{'font-weight':'bold'});
 [['1',1181],['0',1202],['-1',1222]].forEach(s=>{const t=txt(516,s[1],s[0],3,'start',g,{'font-weight':'bold'});});
})();
</script>
</body></html>
